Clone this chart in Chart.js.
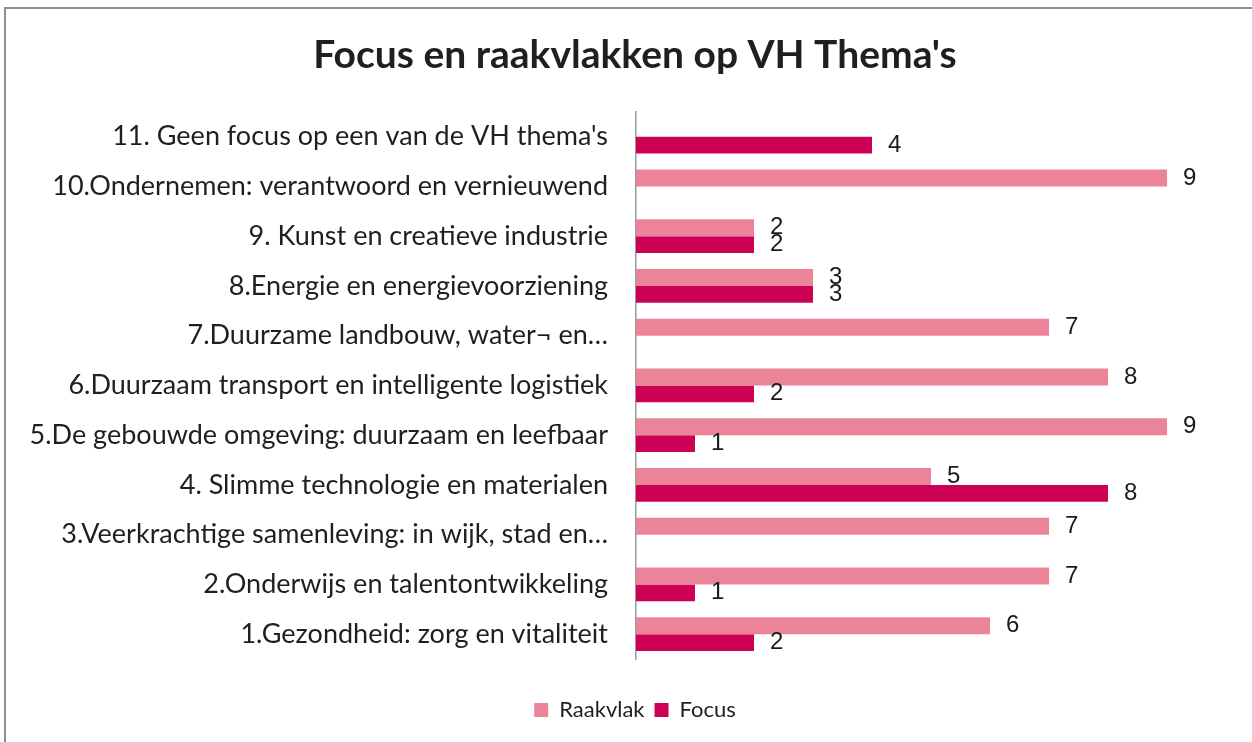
<!DOCTYPE html>
<html>
<head>
<meta charset="utf-8">
<script src="https://cdn.jsdelivr.net/npm/chart.js@4.4.1/dist/chart.umd.min.js"></script>
<style>
    html, body { margin: 0; padding: 0; background: #fff; }
    #wrap { width: 1252px; height: 742px; position: relative; }
</style>
</head>
<body>
<div id="wrap"><canvas id="themaChart" width="1252" height="742"></canvas></div>
<script>
// categorieën van boven naar beneden
const categories = [
    "11. Geen focus op een van de VH thema's",
    "10.Ondernemen: verantwoord en vernieuwend",
    "9. Kunst en creatieve industrie",
    "8.Energie en energievoorziening",
    "7.Duurzame landbouw, water¬ en…",
    "6.Duurzaam transport en intelligente logistiek",
    "5.De gebouwde omgeving: duurzaam en leefbaar",
    "4. Slimme technologie en materialen",
    "3.Veerkrachtige samenleving: in wijk, stad en…",
    "2.Onderwijs en talentontwikkeling",
    "1.Gezondheid: zorg en vitaliteit"
];
const raakvlak = [0, 9, 2, 3, 7, 8, 9, 5, 7, 7, 6];
const focus = [4, 0, 2, 3, 0, 2, 1, 8, 0, 1, 2];

const FONT = "Lato, 'Noto Sans', sans-serif";

// rand om de grafiek, zoals in het origineel
const borderPlugin = {
    id: 'frame',
    beforeDraw(chart) {
        const ctx = chart.ctx;
        ctx.save();
        ctx.fillStyle = '#fff';
        ctx.fillRect(0, 0, chart.width, chart.height);
        ctx.strokeStyle = '#8e8e8e';
        ctx.lineWidth = 2;
        ctx.strokeRect(5, 8, chart.width + 20, chart.height + 20);
        ctx.restore();
    }
};

// waarden naast de balken, nullen overslaan
const valueLabels = {
    id: 'valueLabels',
    afterDatasetsDraw(chart) {
        const ctx = chart.ctx;
        ctx.save();
        ctx.font = "24px 'Liberation Sans', Arial, sans-serif";
        ctx.fillStyle = '#1a1a1a';
        ctx.textAlign = 'left';
        ctx.textBaseline = 'middle';
        chart.data.datasets.forEach((ds, i) => {
            chart.getDatasetMeta(i).data.forEach((bar, j) => {
                const v = ds.data[j];
                if (!v) return;
                ctx.fillText(v, bar.x + 16, bar.y);
            });
        });
        ctx.restore();
    }
};

const ctx = document.getElementById('themaChart').getContext('2d');
new Chart(ctx, {
    type: 'bar',
    data: {
        labels: categories,
        datasets: [{
            label: 'Raakvlak',
            data: raakvlak,
            backgroundColor: '#EB8499',
            borderWidth: 0,
            categoryPercentage: 0.68,
            barPercentage: 1.0
        }, {
            label: 'Focus',
            data: focus,
            backgroundColor: '#CC0055',
            borderWidth: 0,
            categoryPercentage: 0.68,
            barPercentage: 1.0
        }]
    },
    options: {
        indexAxis: 'y',
        responsive: false,
        animation: false,
        layout: {
            padding: { left: 18, right: 0, top: 0, bottom: 11 }
        },
        scales: {
            x: {
                min: 0,
                max: 10.44,
                ticks: { display: false },
                grid: { display: false },
                border: { display: false },
                afterFit(scale) { scale.height = 30; }
            },
            y: {
                grid: { display: false, drawTicks: false },
                border: { display: true, color: '#9a9a9a', width: 1.5 },
                ticks: {
                    padding: 28,
                    color: '#1f1f1f',
                    font: { family: FONT, size: 27 }
                },
                afterFit(scale) { scale.width = 618; }
            }
        },
        plugins: {
            title: {
                display: true,
                text: "Focus en raakvlakken op VH Thema's",
                color: '#1f1f1f',
                font: { family: FONT, size: 39, weight: 'bold', lineHeight: 1.2 },
                padding: { top: 32, bottom: 33 }
            },
            legend: {
                position: 'bottom',
                labels: {
                    boxWidth: 14,
                    boxHeight: 14,
                    padding: 10,
                    color: '#1f1f1f',
                    font: { family: FONT, size: 22 }
                }
            },
            tooltip: { enabled: false }
        }
    },
    plugins: [borderPlugin, valueLabels]
});
</script>
</body>
</html>
